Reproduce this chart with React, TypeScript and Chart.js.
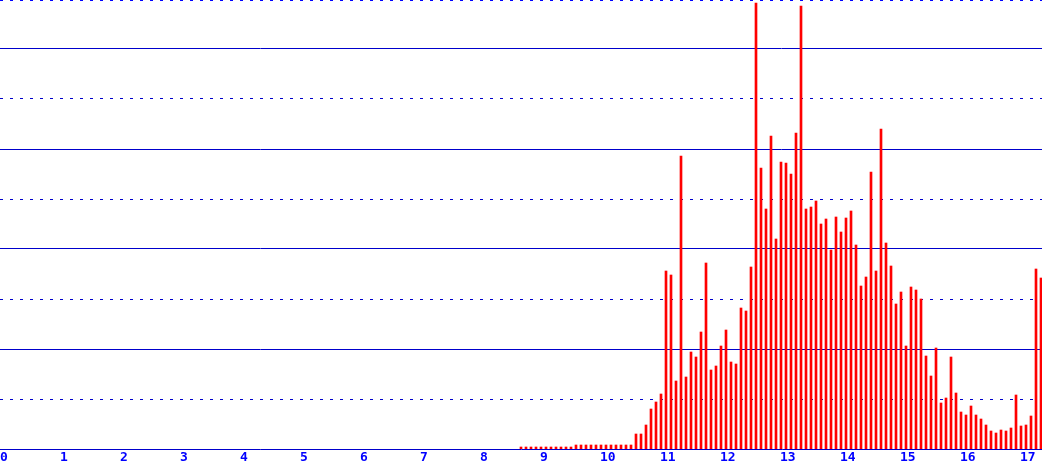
import React, { useEffect, useRef } from "react";
import { Chart, registerables } from "chart.js";

Chart.register(...registerables);

// Histogram bins: first bin value and bin width (in axis units)
const BIN_START = 8 + 8 / 12;
const BIN_WIDTH = 1 / 12;

// Bar heights (counts), one per bin
const COUNTS: number[] = [
  4, 4, 4, 4, 4, 4, 4, 4, 4, 4, 4,
  8, 8, 8, 8, 8, 8, 8, 8, 8, 8, 8, 8,
  30, 30, 48, 80, 94, 110, 356, 348, 136, 586,
  144, 194, 184, 234, 372, 158, 166, 206, 238, 174,
  170, 282, 276, 364, 892, 562, 480, 626, 420, 574,
  572, 550, 632, 886, 480, 484, 496, 450, 460, 398,
  464, 434, 462, 476, 408, 326, 344, 554, 356, 640,
  412, 366, 290, 314, 206, 324, 318, 300, 186, 146,
  202, 92, 102, 184, 112, 74, 68, 86, 68, 60,
  48, 36, 32, 38, 36, 42, 108, 46, 48, 66,
  360, 342,
];

const BINS: number[] = COUNTS.map((_, i) => BIN_START + i * BIN_WIDTH);

// Horizontal grid levels
const SOLID_GRID = [200, 400, 600, 800];
const DOTTED_GRID = [100, 300, 500, 700];
const TOP_VALUE = 898;

const X_MIN = -1 / 60;
const X_MAX = 17.35;

const LINE_BLUE = "rgb(0,0,204)";
const BRIGHT_BLUE = "rgb(0,0,255)";
const NONE = "rgba(0,0,0,0)";

export default function App() {
  const ref = useRef<HTMLCanvasElement | null>(null);

  useEffect(() => {
    document.body.style.margin = "0";
    const canvas = ref.current;
    if (!canvas) return;
    const chart = new Chart(canvas, {
      type: "bar",
      data: {
        datasets: [
          {
            data: BINS.map((x, i) => ({ x, y: COUNTS[i] })),
            backgroundColor: "#ff0000",
            borderWidth: 0,
            barThickness: 2,
            grouped: false,
          } as any,
        ],
      },
      options: {
        animation: false,
        responsive: false,
        devicePixelRatio: 1,
        layout: { padding: 0 },
        plugins: {
          legend: { display: false },
          tooltip: { enabled: false },
        },
        scales: {
          x: {
            type: "linear",
            position: "bottom",
            min: X_MIN,
            max: X_MAX,
            offset: false,
            grid: {
              display: true,
              color: NONE,
              drawTicks: false,
              offset: false,
            },
            border: { display: true, color: LINE_BLUE, width: 1 },
            ticks: {
              stepSize: 1,
              includeBounds: false,
              autoSkip: false,
              maxRotation: 0,
              minRotation: 0,
              maxTicksLimit: 40,
              align: "start",
              padding: 1,
              labelOffset: -1,
              color: BRIGHT_BLUE,
              font: { family: "DejaVu Sans Mono", size: 13, weight: "bold" },
              callback: (v: any) => (Number.isInteger(v) ? String(v) : ""),
            },
            afterFit: (scale: any) => {
              scale.height = 20;
            },
          } as any,
          y: {
            type: "linear",
            position: "left",
            min: 0,
            max: TOP_VALUE,
            ticks: { display: false },
            border: { display: false },
            afterBuildTicks: (scale: any) => {
              scale.ticks = SOLID_GRID.map((value) => ({ value }));
            },
            grid: {
              drawTicks: false,
              color: LINE_BLUE,
              lineWidth: 1,
            },
            afterFit: (scale: any) => {
              scale.width = 0;
            },
          } as any,
          y2: {
            type: "linear",
            position: "left",
            min: 0,
            max: TOP_VALUE,
            ticks: { display: false },
            border: { display: false, dash: [3, 7] },
            afterBuildTicks: (scale: any) => {
              scale.ticks = [...DOTTED_GRID, TOP_VALUE].map((value) => ({ value }));
            },
            grid: {
              drawTicks: false,
              lineWidth: 1,
              color: (ctx: any) =>
                ctx.tick && ctx.tick.value === TOP_VALUE ? BRIGHT_BLUE : LINE_BLUE,
            },
            afterFit: (scale: any) => {
              scale.width = 0;
            },
          } as any,
        },
      },
    });
    return () => {
      chart.destroy();
    };
  }, []);

  return (
    <div style={{ position: "fixed", left: 0, top: 0, width: 1042, height: 469 }}>
      <canvas ref={ref} width={1042} height={469} style={{ display: "block", width: 1042, height: 469 }} />
    </div>
  );
}
